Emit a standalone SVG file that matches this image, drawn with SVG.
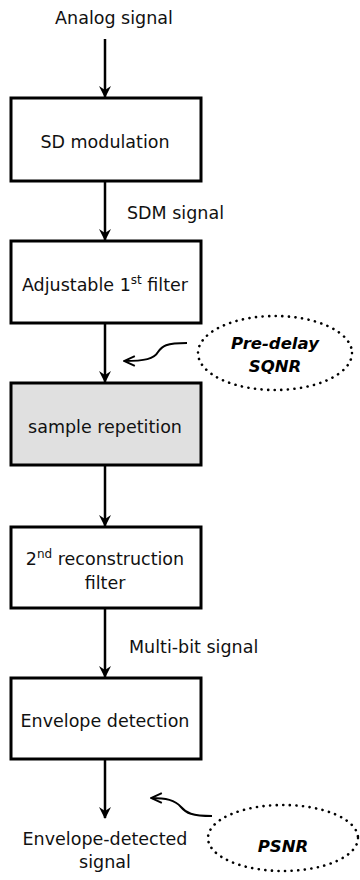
<svg xmlns="http://www.w3.org/2000/svg" width="360" height="880" viewBox="0 0 360 880">
<defs>
<style>
.box{fill:#fff;stroke:#000;stroke-width:3}
.gray{fill:#e0e0e0}
.t{font-family:"DejaVu Sans",Verdana,sans-serif;font-size:17.5px;fill:#111;text-anchor:middle}
.l{font-family:"DejaVu Sans",Verdana,sans-serif;font-size:17.5px;fill:#111}
.b{font-family:"DejaVu Sans",Verdana,sans-serif;font-size:16.5px;font-weight:bold;font-style:italic;fill:#000;text-anchor:middle}
.ln{stroke:#000;stroke-width:2.5;fill:none}
.cv{stroke:#000;stroke-width:2;fill:none}
.dot{fill:none;stroke:#000;stroke-width:2.6;stroke-dasharray:0.1 6.5;stroke-linecap:round}
</style>
<marker id="ah" viewBox="0 0 12 14" refX="11" refY="7" markerWidth="12" markerHeight="14" markerUnits="userSpaceOnUse" orient="auto">
<path d="M0,1 L12,7 L0,13 L4,7 Z" fill="#000"/>
</marker>
<marker id="oh" viewBox="0 0 12 12" refX="11" refY="6" markerWidth="13" markerHeight="13" markerUnits="userSpaceOnUse" orient="auto">
<path d="M1,1.5 L11,6 L1,10.5" fill="none" stroke="#000" stroke-width="1.8"/>
</marker>
</defs>
<g id="connectors">
<line class="ln" x1="105" y1="39" x2="105" y2="97" marker-end="url(#ah)"/>
<line class="ln" x1="105" y1="182" x2="105" y2="240" marker-end="url(#ah)"/>
<line class="ln" x1="105" y1="324" x2="105" y2="382" marker-end="url(#ah)"/>
<line class="ln" x1="105" y1="466" x2="105" y2="526" marker-end="url(#ah)"/>
<line class="ln" x1="105" y1="609" x2="105" y2="677" marker-end="url(#ah)"/>
<line class="ln" x1="105" y1="760" x2="105" y2="818" marker-end="url(#ah)"/>
<path class="cv" d="M187,343 C166,343 162,346 158,352 C154,359 145,361 124,361" marker-end="url(#oh)"/>
<path class="cv" d="M212,816 C192,816 186,813 181,807 C175,800 166,798 151,798" marker-end="url(#oh)"/>
<text class="l" x="127" y="219">SDM signal</text>
<text class="l" x="129" y="653">Multi-bit signal</text>
</g>
<g id="analog"><text class="t" x="114" y="24">Analog signal</text></g>
<g id="sd"><rect class="box" x="11" y="98" width="190" height="83"/><text class="t" x="105" y="148">SD modulation</text></g>
<g id="adj"><rect class="box" x="11" y="241" width="190" height="82"/><text class="t" x="105" y="291">Adjustable 1<tspan font-size="12" dy="-7">st</tspan><tspan dy="7"> filter</tspan></text></g>
<g id="rep"><rect class="box gray" x="11" y="383" width="190" height="82"/><text class="t" x="105" y="433">sample repetition</text></g>
<g id="recon"><rect class="box" x="11" y="527" width="190" height="81"/><text class="t" x="105" y="565">2<tspan font-size="12" dy="-7">nd</tspan><tspan dy="7"> reconstruction</tspan></text><text class="t" x="105" y="589">filter</text></g>
<g id="env"><rect class="box" x="11" y="678" width="190" height="81"/><text class="t" x="105" y="727">Envelope detection</text></g>
<g id="out"><text class="t" x="105" y="845">Envelope-detected</text><text class="t" x="105" y="868">signal</text></g>
<g id="sqnr"><ellipse class="dot" cx="275" cy="353" rx="77" ry="37"/><text class="b" x="275" y="349">Pre-delay</text><text class="b" x="275" y="372">SQNR</text></g>
<g id="psnr"><ellipse class="dot" cx="283" cy="838" rx="75" ry="33"/><text class="b" x="283" y="852" font-size="18.5">PSNR</text></g>
</svg>
